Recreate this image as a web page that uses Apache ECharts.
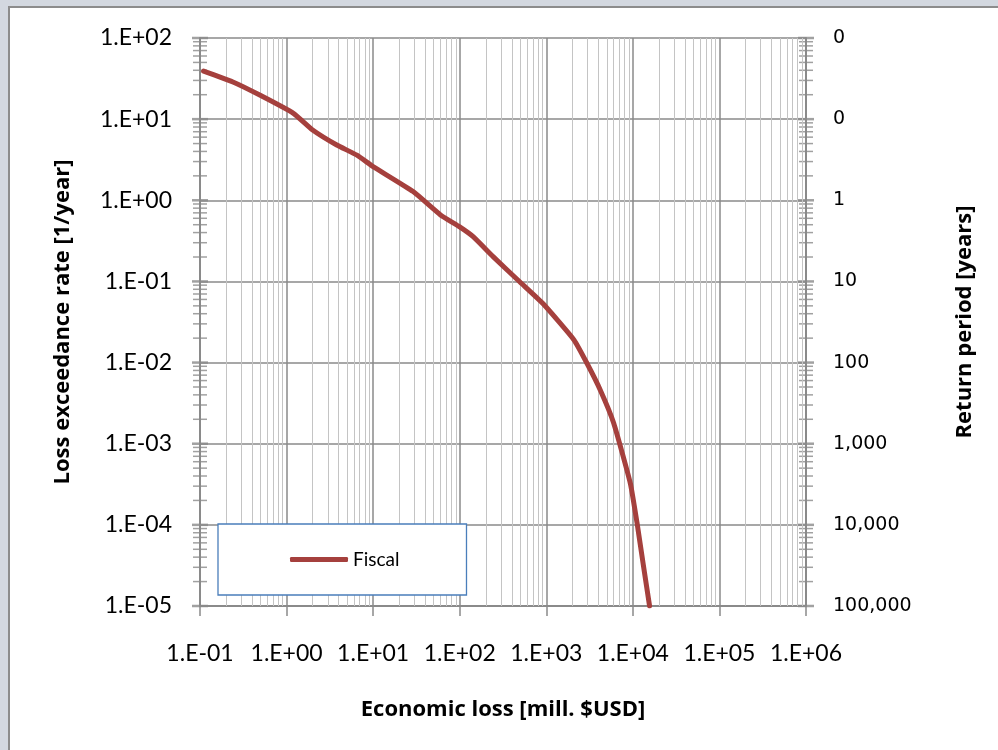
<!DOCTYPE html>
<html>
<head>
<meta charset="utf-8">
<script src="https://cdn.jsdelivr.net/npm/echarts@6/dist/echarts.min.js"></script>
<style>
  html, body { margin: 0; padding: 0; background: #ffffff; }
  #chart { width: 998px; height: 750px; }
</style>
</head>
<body>
<div id="chart"></div>
<script>
// ---- Data ----
const seriesName = 'Fiscal';
const economicLoss = [0.11, 0.24, 0.49, 1.2, 2.0, 3.8, 6.5, 10, 29, 60, 100, 143, 243, 493, 920, 2090, 2950, 4200, 6000, 9350, 11200, 13300, 15600];
const exceedanceRate = [39, 28.7, 19.8, 11.8, 7.35, 4.8, 3.6, 2.6, 1.28, 0.66, 0.47, 0.356, 0.202, 0.099, 0.053, 0.019, 0.0098, 0.0046, 0.0018, 0.000325, 0.000104, 0.0000305, 0.00001];

// Axis ranges (decades)
const xDecades = [-1, 0, 1, 2, 3, 4, 5, 6];
const yDecades = [-5, -4, -3, -2, -1, 0, 1, 2];
const minorMultipliers = [2, 3, 4, 5, 6, 7, 8, 9];

const xMin = Math.pow(10, xDecades[0]);
const xMax = Math.pow(10, xDecades[xDecades.length - 1]);
const yMin = Math.pow(10, yDecades[0]);
const yMax = Math.pow(10, yDecades[yDecades.length - 1]);

function sciLabel(v) {
  const e = Math.round(Math.log10(v));
  const sign = e < 0 ? '-' : '+';
  const a = Math.abs(e);
  return '1.E' + sign + (a < 10 ? '0' + a : '' + a);
}
function returnPeriodLabel(v) {
  return Math.round(1 / v).toLocaleString('en-US');
}

// minor gridline positions on x (2..9 within each decade)
const xMinor = [];
xDecades.slice(0, -1).forEach(d => minorMultipliers.forEach(m => xMinor.push(m * Math.pow(10, d))));
// tick marks on the y axes (both sides)
const yMinor = [];
yDecades.slice(0, -1).forEach(d => minorMultipliers.forEach(m => yMinor.push(m * Math.pow(10, d))));
const yMajor = yDecades.map(d => Math.pow(10, d));

const lineData = economicLoss.map((x, i) => [x, exceedanceRate[i]]);
const minorTickData = [];
yMinor.forEach(v => { minorTickData.push([xMin, v]); minorTickData.push([xMax, v]); });
const majorTickData = [];
yMajor.forEach(v => { majorTickData.push([xMin, v]); majorTickData.push([xMax, v]); });

const gridGray = '#8a8a8a';
const minorGray = '#c4c4c4';
const curveColor = '#a5403d';
const labelFont = 'Lato';
const titleFont = 'Open Sans';

const chart = echarts.init(document.getElementById('chart'), null, { renderer: 'canvas' });
chart.setOption({
  animation: false,
  backgroundColor: '#ffffff',
  graphic: [
    { type: 'rect', shape: { x: 0, y: 0, width: 998, height: 7 }, style: { fill: '#d3d8e0' }, z: -10, silent: true },
    { type: 'rect', shape: { x: 0, y: 0, width: 8, height: 750 }, style: { fill: '#d3d8e0' }, z: -10, silent: true },
    { type: 'rect', shape: { x: 8, y: 6, width: 990, height: 2 }, style: { fill: '#8c8c8c' }, z: -9, silent: true },
    { type: 'rect', shape: { x: 8, y: 6, width: 2, height: 744 }, style: { fill: '#8c8c8c' }, z: -9, silent: true }
  ],
  grid: { left: 200, top: 38, width: 606, height: 568, containLabel: false },
  legend: {
    data: [{ name: seriesName, icon: 'roundRect' }],
    left: 218, top: 524,
    orient: 'horizontal',
    backgroundColor: '#ffffff',
    borderColor: '#4a7ebb',
    borderWidth: 1.3,
    padding: [26, 67, 26, 72],
    itemWidth: 58, itemHeight: 5, itemGap: 5,
    itemStyle: { color: curveColor },
    textStyle: { fontFamily: labelFont, fontSize: 19, color: '#000', padding: [0, 0, 0, 0] },
    z: 10
  },
  xAxis: {
    type: 'log', logBase: 10, min: xMin, max: xMax,
    axisLine: { show: true, lineStyle: { color: gridGray, width: 2 } },
    axisTick: { show: true, length: 10, lineStyle: { color: gridGray, width: 1.5 } },
    axisLabel: { margin: 36, fontFamily: labelFont, fontSize: 23, color: '#000', formatter: sciLabel },
    splitLine: { show: true, lineStyle: { color: gridGray, width: 1.5 } },
    name: 'Economic loss [mill. $USD]', nameLocation: 'middle', nameGap: 93,
    nameTextStyle: { fontFamily: titleFont, fontSize: 22, fontWeight: 'bold', color: '#000' }
  },
  yAxis: [
    {
      type: 'log', logBase: 10, min: yMin, max: yMax, position: 'left',
      axisLine: { show: true, lineStyle: { color: gridGray, width: 2 } },
      axisTick: { show: false },
      axisLabel: { margin: 28, fontFamily: labelFont, fontSize: 23, color: '#000', formatter: sciLabel },
      splitLine: { show: true, lineStyle: { color: gridGray, width: 1.5 } },
      name: 'Loss exceedance rate [1/year]', nameLocation: 'middle', nameGap: 126, nameRotate: 90,
      nameTextStyle: { fontFamily: titleFont, fontSize: 22, fontWeight: 'bold', color: '#000' }
    },
    {
      type: 'log', logBase: 10, min: yMin, max: yMax, position: 'right',
      axisLine: { show: true, lineStyle: { color: gridGray, width: 2 } },
      axisTick: { show: false },
      axisLabel: { margin: 27, fontFamily: 'DejaVu Sans', fontSize: 19, color: '#000', formatter: returnPeriodLabel },
      splitLine: { show: false },
      name: 'Return period [years]', nameLocation: 'middle', nameGap: 148, nameRotate: 90,
      nameTextStyle: { fontFamily: titleFont, fontSize: 22, fontWeight: 'bold', color: '#000' }
    }
  ],
  series: [
    {
      name: 'minorGrid', type: 'line', data: [[xMin, yMin]], symbol: 'none',
      lineStyle: { opacity: 0 }, silent: true, z: 1,
      markLine: {
        silent: true, symbol: ['none', 'none'], label: { show: false },
        lineStyle: { color: minorGray, width: 1, type: 'solid' },
        data: xMinor.map(v => ({ xAxis: v })),
        animation: false
      }
    },
    {
      name: 'yMinorTicks', type: 'scatter', data: minorTickData, symbol: 'rect',
      symbolSize: [14, 1.5], itemStyle: { color: gridGray }, silent: true, clip: false, z: 3
    },
    {
      name: 'yMajorTicks', type: 'scatter', data: majorTickData, symbol: 'rect',
      symbolSize: [16, 2.5], itemStyle: { color: gridGray }, silent: true, clip: false, z: 3
    },
    {
      name: seriesName, type: 'line', data: lineData, symbol: 'none', smooth: 0.15,
      lineStyle: { color: curveColor, width: 5, cap: 'round', join: 'round' },
      itemStyle: { color: curveColor }, z: 5
    }
  ]
});
</script>
</body>
</html>
